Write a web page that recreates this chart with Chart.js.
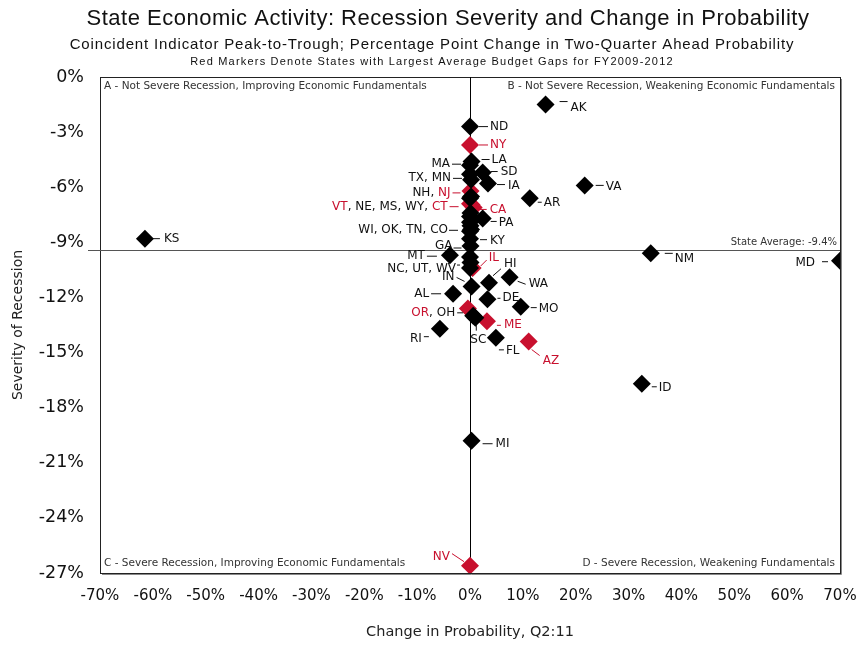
<!DOCTYPE html>
<html>
<head>
<meta charset="utf-8">
<script src="https://cdn.jsdelivr.net/npm/chart.js@4.4.1/dist/chart.umd.min.js"></script>
<style>
  body { margin: 0; background: #fff; overflow: hidden; }
  #wrap { width: 862px; height: 646px; }
</style>
</head>
<body>
<div id="wrap"><canvas id="stateChart"></canvas></div>
<script>
// data
const states = ['AK','ND','NY','LA','MA','SD','TX','MN','IA','VA','AR','NH','NJ','VT','NE','MS','WY','CT','CA','PA',
  'WI','OK','TN','CO','KY','GA','KS','MT','NM','MD','NC','UT','WV','IL','HI','WA','IN','AL','DE','MO',
  'OR','OH','ME','RI','SC','FL','AZ','ID','MI','NV'];
const probChange = [14.3, 0, 0, 0.3, 0, 2.4, 0, 0.2, 3.4, 21.7, 11.3, 0.2, 0.1, 0, 0, 0.1, 0, 0.3, 0.7, 2.4,
  0, 0.1, 0.2, 0, 0, 0.1, -61.5, -3.8, 34.2, 70, 0, 0.1, 0, 0.5, 3.6, 7.5, 0.3, -3.2, 3.3, 9.6,
  -0.4, 0.6, 3.2, -5.7, 1.0, 4.9, 11.1, 32.5, 0.3, 0];
const severity = [-1.5, -2.7, -3.7, -4.6, -4.8, -5.2, -5.3, -5.6, -5.8, -5.9, -6.6, -6.5, -6.2, -6.9, -6.6, -7.4, -7.6, -6.95, -7.1, -7.7,
  -7.9, -8.1, -8.3, -8.4, -8.8, -9.2, -8.8, -9.7, -9.6, -10.0, -9.8, -10.1, -10.4, -10.4, -11.2, -10.9, -11.4, -11.8, -12.1, -12.5,
  -12.6, -13.0, -13.3, -13.7, -13.1, -14.2, -14.4, -16.7, -19.8, -26.6];
const budgetGapStates = ['NY','NJ','VT','CT','CA','IL','OR','ME','AZ','NV'];
const stateAverage = -9.4;

const titleText = 'State Economic Activity: Recession Severity and Change in Probability';
const subtitleText = 'Coincident Indicator Peak-to-Trough; Percentage Point Change in Two-Quarter Ahead Probability';
const noteText = 'Red Markers Denote States with Largest Average Budget Gaps for FY2009-2012';
const xTitle = 'Change in Probability, Q2:11';
const yTitle = 'Severity of Recession';
const quadA = 'A - Not Severe Recession, Improving Economic Fundamentals';
const quadB = 'B - Not Severe Recession, Weakening Economic Fundamentals';
const quadC = 'C - Severe Recession, Improving Economic Fundamentals';
const quadD = 'D - Severe Recession, Weakening Fundamentals';

const RED = '#c8102e';

// label placement: anchor state, text offset, alignment, leader line offsets (pixels)
const labelLayout = [
  { at: 'AK', parts: ['AK'], tx: 25, ty: 3, align: 'left', lead: [14, -3, 22, -3] },
  { at: 'ND', parts: ['ND'], tx: 20, ty: 0, align: 'left', lead: [9, 0, 18, 0] },
  { at: 'NY', parts: ['NY'], tx: 20, ty: 0, align: 'left', lead: [9, 0, 18, 0] },
  { at: 'LA', parts: ['LA'], tx: 20, ty: -2, align: 'left', lead: [10, -2, 18, -2] },
  { at: 'MA', parts: ['MA'], tx: -20, ty: -1, align: 'right', lead: [-18, -1, -9, -1] },
  { at: 'SD', parts: ['SD'], tx: 18, ty: -1, align: 'left', lead: [8, -1, 15, -1] },
  { at: 'TX', parts: ['TX', 'MN'], tx: -19, ty: 4, align: 'right', lead: [-17, 4, -8, 4] },
  { at: 'IA', parts: ['IA'], tx: 20, ty: 2, align: 'left', lead: [9, 1, 17, 1] },
  { at: 'VA', parts: ['VA'], tx: 21, ty: 1, align: 'left', lead: [11, 0, 19, 0] },
  { at: 'AR', parts: ['AR'], tx: 14, ty: 5, align: 'left', lead: [8, 4, 12, 4] },
  { at: 'NJ', parts: ['NH', 'NJ'], tx: -20, ty: 2, align: 'right', lead: [-18, 2, -10, 2] },
  { at: 'CT', parts: ['VT', 'NE', 'MS', 'WY', 'CT'], tx: -24, ty: 2, align: 'right', lead: [-22, 2, -13, 2] },
  { at: 'CA', parts: ['CA'], tx: 16, ty: 2, align: 'left', lead: [6, 2, 13, 2] },
  { at: 'PA', parts: ['PA'], tx: 16, ty: 4, align: 'left', lead: [8, 3, 14, 3] },
  { at: 'CO', parts: ['WI', 'OK', 'TN', 'CO'], tx: -22, ty: -1, align: 'right', lead: [-21, -1, -12, -1] },
  { at: 'KY', parts: ['KY'], tx: 20, ty: 2, align: 'left', lead: [10, 1, 17, 1] },
  { at: 'GA', parts: ['GA'], tx: -18, ty: 0, align: 'right', lead: [-17, 2, -9, 2] },
  { at: 'KS', parts: ['KS'], tx: 19, ty: 0, align: 'left', lead: [8, 0, 15, 0] },
  { at: 'MT', parts: ['MT'], tx: -25, ty: 1, align: 'right', lead: [-23, 1, -13, 1] },
  { at: 'NM', parts: ['NM'], tx: 24, ty: 6, align: 'left', lead: [14, 0, 22, 0] },
  { at: 'MD', parts: ['MD'], tx: -25, ty: 2, align: 'right', lead: [-18, 1, -12, 1] },
  { at: 'WV', parts: ['NC', 'UT', 'WV'], tx: -14, ty: 1, align: 'right', lead: [-13, -3, -10, -3] },
  { at: 'IL', parts: ['IL'], tx: 16, ty: -10, align: 'left', lead: [8, -2, 14, -8] },
  { at: 'HI', parts: ['HI'], tx: 15, ty: -19, align: 'left', lead: [4, -7, 12, -14] },
  { at: 'WA', parts: ['WA'], tx: 19, ty: 7, align: 'left', lead: [8, 4, 16, 7] },
  { at: 'IN', parts: ['IN'], tx: -17, ty: -10, align: 'right', lead: [-15, -9, -7, -5] },
  { at: 'AL', parts: ['AL'], tx: -24, ty: 0, align: 'right', lead: [-22, 0, -12, 0] },
  { at: 'DE', parts: ['DE'], tx: 15, ty: -1, align: 'left', lead: [10, -1, 13, -1] },
  { at: 'MO', parts: ['MO'], tx: 18, ty: 2, align: 'left', lead: [10, 1, 16, 1] },
  { at: 'OH', parts: ['OR', 'OH'], tx: -18, ty: -3, align: 'right', lead: [-16, -3, -10, -3] },
  { at: 'ME', parts: ['ME'], tx: 17, ty: 4, align: 'left', lead: [10, 4, 14, 4] },
  { at: 'RI', parts: ['RI'], tx: -18, ty: 10, align: 'right', lead: [-16, 8, -11, 8] },
  { at: 'SC', parts: ['SC'], tx: 3, ty: 22, align: 'center', lead: [1, 7, 1, 13] },
  { at: 'FL', parts: ['FL'], tx: 10, ty: 13, align: 'left', lead: [3, 12, 8, 12] },
  { at: 'AZ', parts: ['AZ'], tx: 14, ty: 19, align: 'left', lead: [3, 8, 11, 14] },
  { at: 'ID', parts: ['ID'], tx: 17, ty: 4, align: 'left', lead: [10, 3, 15, 3] },
  { at: 'MI', parts: ['MI'], tx: 24, ty: 3, align: 'left', lead: [11, 3, 21, 3] },
  { at: 'NV', parts: ['NV'], tx: -20, ty: -9, align: 'right', lead: [-18, -12, -6, -4] }
];

const points = states.map((s, i) => ({ x: probChange[i], y: severity[i], state: s }));
const isRed = s => budgetGapStates.includes(s);

const overlay = {
  id: 'overlay',
  beforeDatasetsDraw(chart) {
    const { ctx, chartArea: a, scales: { x, y } } = chart;
    ctx.save();
    ctx.lineWidth = 1;
    // frame
    ctx.strokeStyle = '#222';
    ctx.strokeRect(a.left + 0.5, a.top + 0.5, a.width, a.height);
    ctx.strokeStyle = '#888';
    ctx.beginPath();
    ctx.moveTo(a.right + 1.5, a.top + 2);
    ctx.lineTo(a.right + 1.5, a.bottom + 1.5);
    ctx.lineTo(a.left + 2, a.bottom + 1.5);
    ctx.stroke();
    // zero line
    const x0 = Math.round(x.getPixelForValue(0)) + 0.5;
    ctx.strokeStyle = '#000';
    ctx.beginPath();
    ctx.moveTo(x0, a.top);
    ctx.lineTo(x0, a.bottom);
    ctx.stroke();
    // state average line
    const yAvg = Math.round(y.getPixelForValue(stateAverage)) + 0.5;
    ctx.strokeStyle = '#555';
    ctx.beginPath();
    ctx.moveTo(a.left - 12, yAvg);
    ctx.lineTo(a.right, yAvg);
    ctx.stroke();
    ctx.font = '10px "DejaVu Sans"';
    ctx.fillStyle = '#333';
    ctx.textAlign = 'right';
    ctx.textBaseline = 'bottom';
    ctx.fillText('State Average: ' + stateAverage + '%', a.right - 3, yAvg - 3);
    // quadrant captions
    ctx.font = '10.5px "DejaVu Sans"';
    ctx.textBaseline = 'middle';
    ctx.textAlign = 'left';
    ctx.fillText(quadA, a.left + 4, a.top + 9);
    ctx.fillText(quadC, a.left + 4, a.bottom - 10);
    ctx.textAlign = 'right';
    ctx.fillText(quadB, a.right - 5, a.top + 9);
    ctx.fillText(quadD, a.right - 5, a.bottom - 10);
    ctx.restore();
  },
  afterDatasetsDraw(chart) {
    const { ctx, scales: { x, y } } = chart;
    ctx.save();
    ctx.font = '12px "DejaVu Sans"';
    ctx.textBaseline = 'middle';
    ctx.lineWidth = 1;
    labelLayout.forEach(l => {
      const i = states.indexOf(l.at);
      const px = x.getPixelForValue(probChange[i]);
      const py = y.getPixelForValue(severity[i]);
      // leader line takes the colour of the nearest name
      const near = l.align === 'right' ? l.parts[l.parts.length - 1] : l.parts[0];
      ctx.strokeStyle = isRed(near) ? RED : '#111';
      ctx.beginPath();
      ctx.moveTo(px + l.lead[0], py + l.lead[1]);
      ctx.lineTo(px + l.lead[2], py + l.lead[3]);
      ctx.stroke();
      const pieces = [];
      l.parts.forEach((p, k) => {
        pieces.push({ t: p, c: isRed(p) ? RED : '#111' });
        if (k < l.parts.length - 1) pieces.push({ t: ', ', c: '#111' });
      });
      const total = pieces.reduce((w, p) => w + ctx.measureText(p.t).width, 0);
      let cx = px + l.tx;
      if (l.align === 'right') cx -= total;
      if (l.align === 'center') cx -= total / 2;
      ctx.textAlign = 'left';
      pieces.forEach(p => {
        ctx.fillStyle = p.c;
        ctx.fillText(p.t, cx, py + l.ty);
        cx += ctx.measureText(p.t).width;
      });
    });
    ctx.restore();
  },
  afterDraw(chart) {
    const { ctx, chartArea: a } = chart;
    ctx.save();
    ctx.fillStyle = '#111';
    ctx.textAlign = 'center';
    ctx.textBaseline = 'middle';
    ctx.font = '22px "Liberation Sans"';
    ctx.letterSpacing = '0.5px';
    ctx.fillText(titleText, 448, 19);
    ctx.font = '15px "Liberation Sans"';
    ctx.letterSpacing = '0.85px';
    ctx.fillText(subtitleText, 432, 45);
    ctx.font = '11px "Liberation Sans"';
    ctx.letterSpacing = '1.2px';
    ctx.fillText(noteText, 432, 62);
    ctx.letterSpacing = '0px';
    ctx.font = '14.5px "DejaVu Sans"';
    ctx.fillStyle = '#222';
    ctx.fillText(xTitle, (a.left + a.right) / 2, 632);
    ctx.font = '14px "DejaVu Sans"';
    ctx.translate(18, (a.top + a.bottom) / 2);
    ctx.rotate(-Math.PI / 2);
    ctx.fillText(yTitle, 0, 0);
    ctx.restore();
  }
};

const config = {
  type: 'scatter',
  data: {
    datasets: [
      {
        label: 'States',
        data: points.filter(p => !isRed(p.state)),
        backgroundColor: '#000',
        pointStyle: 'rectRot',
        pointRadius: 9,
        pointHoverRadius: 9,
        borderWidth: 0
      },
      {
        label: 'Largest budget gaps',
        data: points.filter(p => isRed(p.state)),
        backgroundColor: RED,
        pointStyle: 'rectRot',
        pointRadius: 9,
        pointHoverRadius: 9,
        borderWidth: 0
      }
    ]
  },
  options: {
    responsive: true,
    maintainAspectRatio: false,
    animation: false,
    layout: { padding: { top: 77, right: 22, left: 0, bottom: 0 } },
    plugins: {
      legend: { display: false },
      tooltip: { enabled: false }
    },
    scales: {
      x: {
        type: 'linear',
        min: -70,
        max: 70,
        grid: { display: false, drawTicks: false },
        border: { display: false },
        ticks: {
          stepSize: 10,
          padding: 14,
          color: '#111',
          font: { family: 'DejaVu Sans', size: 15 },
          callback: v => v + '%'
        },
        afterFit: s => { s.height = 73; s.paddingLeft = 0; s.paddingRight = 0; }
      },
      y: {
        type: 'linear',
        min: -27,
        max: 0,
        grid: { display: false, drawTicks: false },
        border: { display: false },
        ticks: {
          stepSize: 3,
          padding: 16,
          color: '#111',
          font: { family: 'DejaVu Sans', size: 17.5 },
          callback: v => v + '%'
        },
        afterFit: s => { s.width = 100; s.paddingTop = 0; s.paddingBottom = 0; }
      }
    }
  },
  plugins: [overlay]
};

new Chart(document.getElementById('stateChart'), config);
</script>
</body>
</html>
